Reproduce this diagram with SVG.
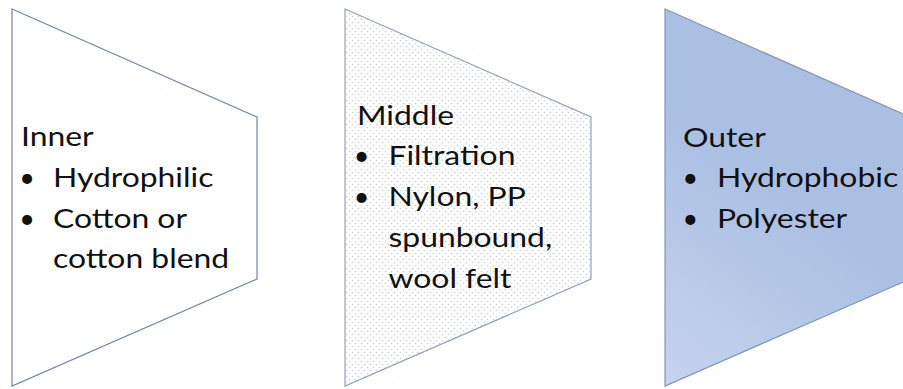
<svg xmlns="http://www.w3.org/2000/svg" width="903" height="389" viewBox="0 0 903 389">
<defs>
<pattern id="dots" width="6" height="6" patternUnits="userSpaceOnUse">
<rect width="6" height="6" fill="#ffffff"/>
<circle cx="1.5" cy="1.5" r="0.8" fill="#cdd0d6"/>
<circle cx="4.5" cy="4.5" r="0.8" fill="#cdd0d6"/>
</pattern>
<linearGradient id="blue" x1="665" y1="386" x2="800" y2="200" gradientUnits="userSpaceOnUse">
<stop offset="0" stop-color="#c6d3ec"/>
<stop offset="1" stop-color="#abbfe3"/>
</linearGradient>
</defs>
<style>
.shape{stroke-width:1.2;}
.t{font-family:Lato,"Open Sans","Liberation Sans",sans-serif;font-size:27px;fill:#111111;}
.b{font-family:Lato,"Open Sans","Liberation Sans",sans-serif;font-size:27px;fill:#111111;text-anchor:middle;}
</style>
<rect width="903" height="389" fill="#ffffff"/>
<g id="inner">
<polygon class="shape" points="12,9 257,117 257,279 12,386" fill="#ffffff" stroke="#6f86a6"/>
<text class="t" transform="translate(21,146) scale(1.18,1)">Inner</text>
<text class="b" x="27" y="186.8">•</text>
<text class="t" transform="translate(53,186.8) scale(1.18,1)">Hydrophilic</text>
<text class="b" x="27" y="227.6">•</text>
<text class="t" transform="translate(53,227.6) scale(1.18,1)">Cotton or</text>
<text class="t" transform="translate(53,268.4) scale(1.18,1)">cotton blend</text>
</g>
<g id="middle">
<polygon class="shape" points="345,9 591,117 591,279 345,386" fill="url(#dots)" stroke="#8fa3bd"/>
<text class="t" transform="translate(357,124.5) scale(1.18,1)">Middle</text>
<text class="b" x="361.7" y="165.3">•</text>
<text class="t" transform="translate(388.5,165.3) scale(1.18,1)">Filtration</text>
<text class="b" x="361.7" y="206.1">•</text>
<text class="t" transform="translate(388.5,206.1) scale(1.18,1)">Nylon, PP</text>
<text class="t" transform="translate(388.5,246.9) scale(1.18,1)">spunbound,</text>
<text class="t" transform="translate(388.5,287.7) scale(1.18,1)">wool felt</text>
</g>
<g id="outer">
<polygon class="shape" points="665,9 910,117 910,279 665,386" fill="url(#blue)" stroke="#7f96bd"/>
<text class="t" transform="translate(683,146.5) scale(1.18,1)">Outer</text>
<text class="b" x="690.3" y="186.8">•</text>
<text class="t" transform="translate(717,186.8) scale(1.18,1)">Hydrophobic</text>
<text class="b" x="690.3" y="227.6">•</text>
<text class="t" transform="translate(717,227.6) scale(1.18,1)">Polyester</text>
</g>
<g id="connectors"/>
</svg>
